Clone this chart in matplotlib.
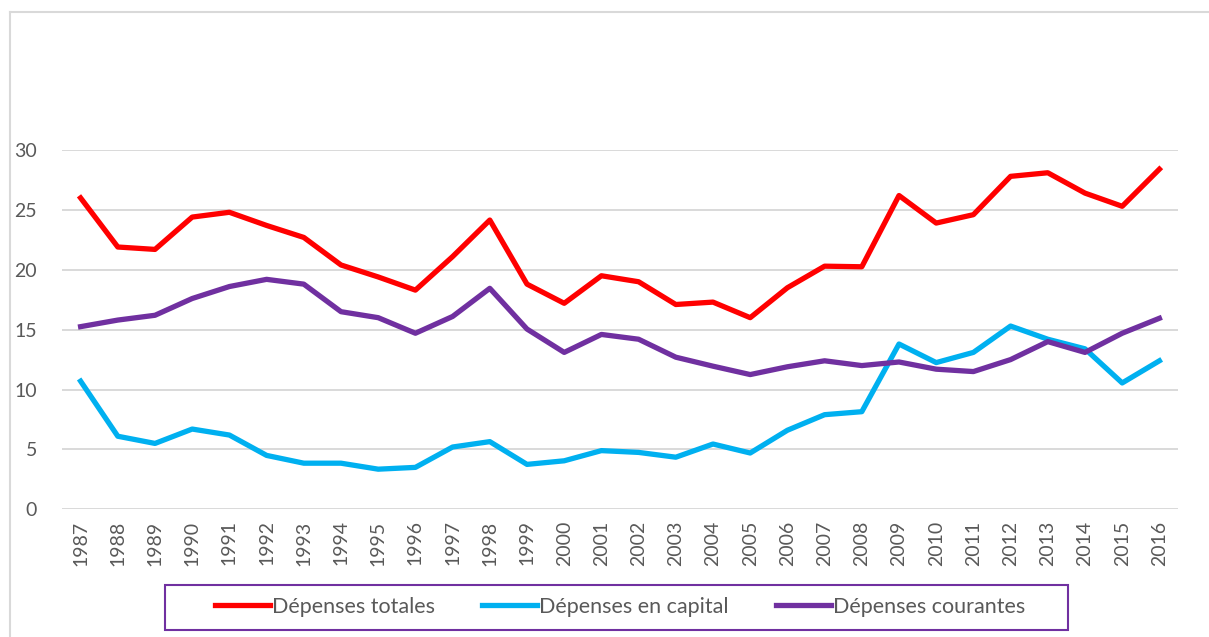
import matplotlib.pyplot as plt
from matplotlib.lines import Line2D
from matplotlib.patches import Rectangle

plt.rcParams['font.family'] = ['Lato', 'DejaVu Sans']

# années
annees = [str(a) for a in range(1987, 2017)]

# dépenses (en % )
depenses_totales = [26.0, 21.9, 21.7, 24.4, 24.8, 23.7, 22.7, 20.4, 19.4, 18.3,
                    21.1, 24.15, 18.8, 17.2, 19.5, 19.0, 17.1, 17.3, 16.0, 18.5,
                    20.3, 20.25, 26.2, 23.9, 24.6, 27.8, 28.1, 26.4, 25.3, 28.4]
depenses_capital = [10.7, 6.1, 5.5, 6.7, 6.2, 4.5, 3.85, 3.85, 3.35, 3.5,
                    5.2, 5.65, 3.75, 4.05, 4.9, 4.75, 4.35, 5.45, 4.7, 6.6,
                    7.9, 8.15, 13.8, 12.25, 13.1, 15.3, 14.2, 13.4, 10.55, 12.4]
depenses_courantes = [15.25, 15.8, 16.2, 17.6, 18.6, 19.2, 18.8, 16.5, 16.0, 14.7,
                      16.1, 18.45, 15.05, 13.1, 14.6, 14.2, 12.7, 11.95, 11.25, 11.9,
                      12.4, 12.0, 12.3, 11.7, 11.5, 12.5, 14.0, 13.1, 14.7, 15.95]

W, H = 1209, 637
fig = plt.figure(figsize=(W / 100, H / 100), dpi=100)
ax = fig.add_axes([62 / W, (H - 509.3) / H, 1116 / W, 359.3 / H])

x = range(len(annees))
ax.plot(x, depenses_totales, color='#FF0000', lw=3.8, label='Dépenses totales')
ax.plot(x, depenses_capital, color='#00B0F0', lw=3.8, label='Dépenses en capital')
ax.plot(x, depenses_courantes, color='#7030A0', lw=3.8, label='Dépenses courantes')

ax.set_xlim(-0.5, len(annees) - 0.5)
ax.set_ylim(0, 30)
ax.set_yticks(range(0, 31, 5))
ax.set_xticks(list(x))
ax.set_xticklabels(annees, rotation=90)
ax.grid(axis='y', color='#D9D9D9', lw=1.4)
ax.set_axisbelow(True)
for s in ax.spines.values():
    s.set_visible(False)
ax.tick_params(length=0, labelsize=14, colors='#595959')
ax.tick_params(axis='y', pad=18)
ax.tick_params(axis='x', pad=8)

# cadre du graphique
fig.add_artist(Line2D([10 / W, 10 / W], [0, 1 - 12 / H], color='#D9D9D9', lw=1.5))
fig.add_artist(Line2D([10 / W, 1], [1 - 12 / H, 1 - 12 / H], color='#D9D9D9', lw=1.5))

# cadre de la légende
fig.add_artist(Rectangle((165 / W, 7 / H), 903 / W, 45 / H, transform=fig.transFigure,
                         fill=False, edgecolor='#7030A0', lw=1.5))
leg = fig.legend(loc='center', bbox_to_anchor=(620 / W, (H - 607) / H),
                 ncol=3, fontsize=15.5, frameon=False,
                 handlelength=2.55, handletextpad=0.1, columnspacing=2.2,
                 labelcolor='#595959')

fig.savefig('out.png', dpi=100)
